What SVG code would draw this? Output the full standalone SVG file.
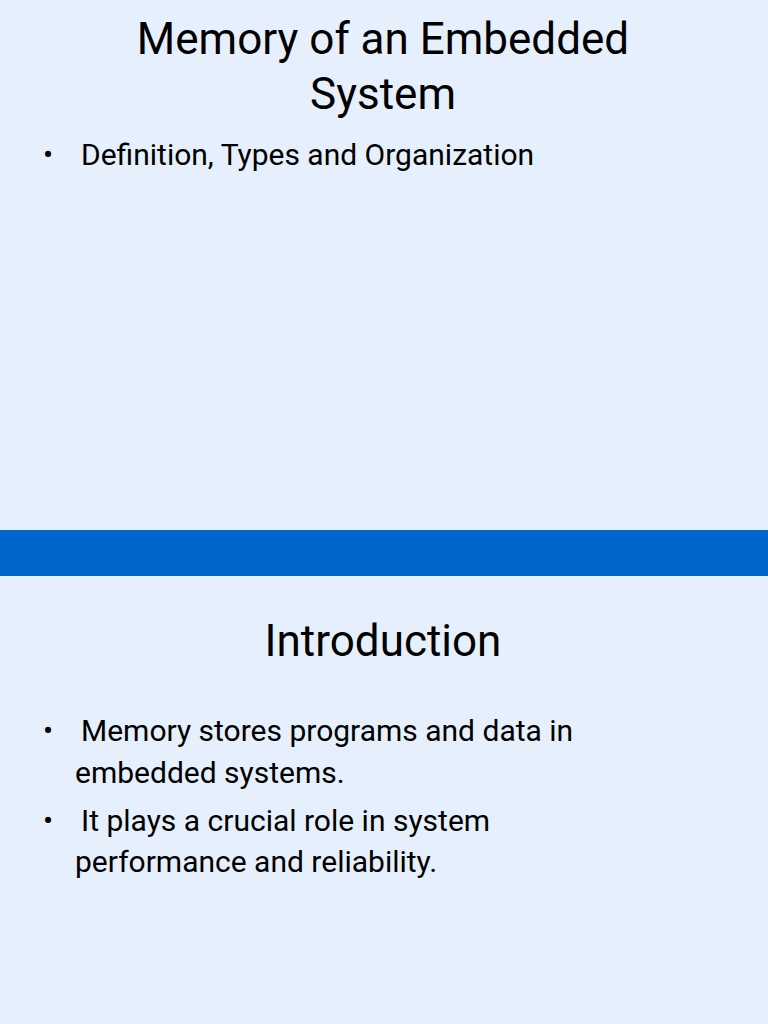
<svg xmlns="http://www.w3.org/2000/svg" width="768" height="1024" viewBox="0 0 768 1024">
<style>
.t{font-family:Roboto,"Liberation Sans",sans-serif;fill:#000}
.h{font-size:44px;text-anchor:middle}
.b{font-size:30px}
</style>
<rect width="768" height="1024" fill="#E6F0FC"/>
<rect x="0" y="530" width="768" height="46" fill="#0066CC"/>
<g id="slide1">
<text class="t h" x="383" y="54">Memory of an Embedded</text>
<text class="t h" x="383" y="109">System</text>
<text class="t b" x="43" y="165">•</text>
<text class="t b" x="81" y="165">Definition, Types and Organization</text>
</g>
<g id="slide2">
<text class="t h" x="383" y="656">Introduction</text>
<text class="t b" x="43" y="741">•</text>
<text class="t b" x="81" y="741">Memory stores programs and data in</text>
<text class="t b" x="75" y="783">embedded systems.</text>
<text class="t b" x="43" y="831">•</text>
<text class="t b" x="81" y="831">It plays a crucial role in system</text>
<text class="t b" x="75" y="872">performance and reliability.</text>
</g>
</svg>
